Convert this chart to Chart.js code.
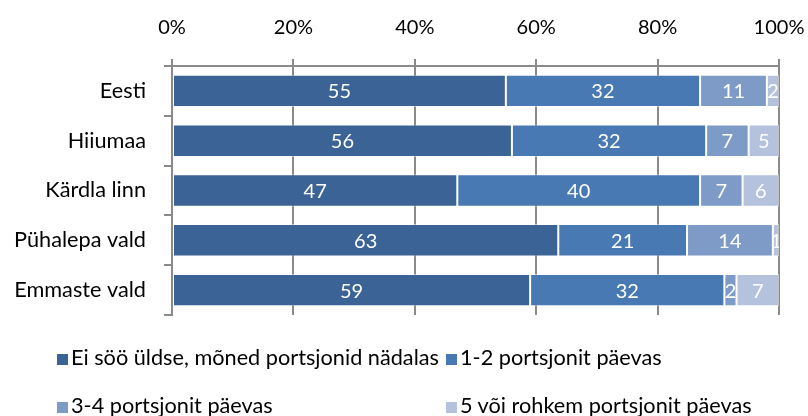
<!DOCTYPE html>
<html>
<head>
<meta charset="utf-8">
<script src="https://cdn.jsdelivr.net/npm/chart.js@4/dist/chart.umd.min.js"></script>
<style>
    body { margin: 0; background: #fff; }
    #wrap { position: relative; width: 808px; height: 416px; }
    #myChart { position: absolute; left: 0; top: 0; }
    .leg { position: absolute; font-family: Lato, sans-serif; font-size: 21.7px; line-height: 24px; color: #000; white-space: nowrap; }
    .leg span { display: inline-block; width: 11px; height: 11px; margin-right: 3px; }
</style>
</head>
<body>
<div id="wrap">
    <canvas id="myChart" width="808" height="416"></canvas>
    <div id="legend"></div>
</div>
<script>
// categories (top to bottom) and share of answers, %
var CATEGORIES = ['Eesti', 'Hiiumaa', 'Kärdla linn', 'Pühalepa vald', 'Emmaste vald'];
var SERIES_NAMES = [
    'Ei söö üldse, mõned portsjonid nädalas',
    '1-2 portsjonit päevas',
    '3-4 portsjonit päevas',
    '5 või rohkem portsjonit päevas'
];
var EI_SOO = [55, 56, 47, 63, 59];
var PORTS_1_2 = [32, 32, 40, 21, 32];
var PORTS_3_4 = [11, 7, 7, 14, 2];
var PORTS_5 = [2, 5, 6, 1, 7];
var X_TICKS = [0, 20, 40, 60, 80, 100];

var COLORS = ['#3b6395', '#4979b2', '#7e9bc8', '#b4c2de'];
var FONT = 'Lato';

var series = [EI_SOO, PORTS_1_2, PORTS_3_4, PORTS_5];

// 100% stacked: each bar is scaled to its own total
var totals = CATEGORIES.map(function (c, j) {
    return series.reduce(function (s, arr) { return s + arr[j]; }, 0);
});

var datasets = series.map(function (arr, i) {
    return {
        label: SERIES_NAMES[i],
        raw: arr,
        data: arr.map(function (v, j) { return v / totals[j] * 100; }),
        backgroundColor: COLORS[i],
        borderColor: 'rgba(255,255,255,0.45)',
        borderWidth: 1,
        borderSkipped: false,
        categoryPercentage: 1,
        barPercentage: 0.65
    };
});

// white value labels in the middle of each segment
var barLabels = {
    id: 'barLabels',
    afterDatasetsDraw: function (chart) {
        var ctx = chart.ctx;
        var a = chart.chartArea;
        ctx.save();
        ctx.beginPath();
        ctx.rect(a.left, a.top, a.right - a.left, a.bottom - a.top);
        ctx.clip();
        ctx.font = '20px ' + FONT;
        ctx.fillStyle = '#fff';
        ctx.textAlign = 'center';
        ctx.textBaseline = 'middle';
        chart.data.datasets.forEach(function (ds, i) {
            chart.getDatasetMeta(i).data.forEach(function (bar, j) {
                var p = bar.getCenterPoint();
                ctx.fillText(ds.raw[j], p.x, p.y + 1);
            });
        });
        ctx.restore();
    }
};

const ctx = document.getElementById('myChart').getContext('2d');
const myChart = new Chart(ctx, {
    type: 'bar',
    data: {
        labels: CATEGORIES,
        datasets: datasets
    },
    options: {
        indexAxis: 'y',
        responsive: false,
        animation: false,
        layout: { padding: { left: 0, right: 29, top: 0, bottom: 101 } },
        plugins: {
            legend: { display: false },
            tooltip: { enabled: false }
        },
        scales: {
            x: {
                position: 'top',
                stacked: true,
                min: 0,
                max: 100,
                afterBuildTicks: function (scale) {
                    scale.ticks = X_TICKS.map(function (v) { return { value: v }; });
                },
                afterFit: function (scale) {
                    scale.height = 66;
                    scale.paddingLeft = 0;
                    scale.paddingRight = 0;
                },
                ticks: {
                    padding: 19,
                    color: '#000',
                    font: { family: FONT, size: 20 },
                    callback: function (v) { return v + '%'; }
                },
                grid: { color: '#8a8a8a', lineWidth: 2, tickLength: 7 },
                border: { color: '#8a8a8a', width: 2 }
            },
            y: {
                stacked: true,
                afterFit: function (scale) { scale.width = 172; },
                ticks: {
                    padding: 18,
                    color: '#000',
                    font: { family: FONT, size: 21.7 }
                },
                grid: { offset: true, drawOnChartArea: false, color: '#8a8a8a', lineWidth: 2, tickLength: 8 },
                border: { color: '#8a8a8a', width: 2 }
            }
        }
    },
    plugins: [barLabels]
});

// legend in two columns, as in the original
var LEG_POS = [[57, 345], [446, 345], [57, 393], [446, 393]];
var legend = document.getElementById('legend');
SERIES_NAMES.forEach(function (name, i) {
    var d = document.createElement('div');
    d.className = 'leg';
    d.style.left = LEG_POS[i][0] + 'px';
    d.style.top = LEG_POS[i][1] + 'px';
    d.innerHTML = '<span style="background:' + COLORS[i] + '"></span>' + name;
    legend.appendChild(d);
});
</script>
</body>
</html>
